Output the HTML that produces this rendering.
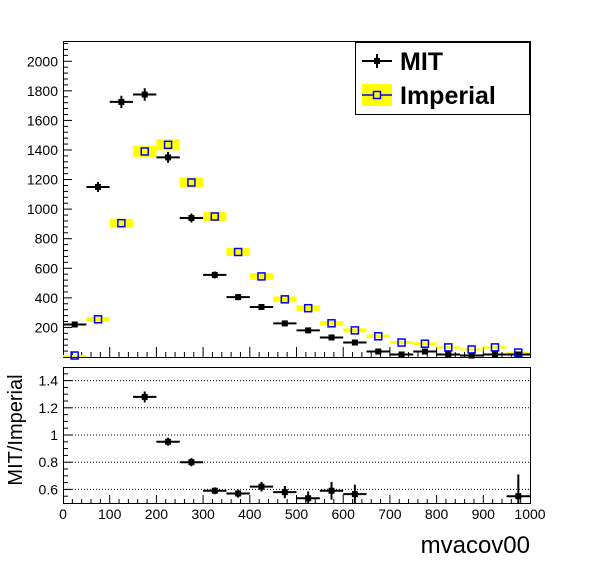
<!DOCTYPE html>
<html><head><meta charset="utf-8"><style>
html,body{margin:0;padding:0;background:#fff;}
svg{display:block;font-family:"Liberation Sans",sans-serif;}
</style></head><body>
<svg id="c" width="596" height="572" xmlns="http://www.w3.org/2000/svg">
<g id="topPad"></g>
<g id="botPad"></g>
<text x="22" y="430" font-size="20" text-anchor="middle" transform="rotate(-90 22 430)">MIT/Imperial</text>
<text x="530" y="553" font-size="24" text-anchor="end">mvacov00</text>
<g>
<rect x="355.5" y="42.5" width="174" height="72" fill="#fff" stroke="#000"/>
<g>
<line x1="362" y1="61" x2="392" y2="61" stroke="#000" stroke-width="2"/>
<line x1="377" y1="54" x2="377" y2="68" stroke="#000" stroke-width="2"/>
<rect x="374" y="58" width="6" height="6" fill="#000"/>
<text x="400" y="70" font-size="25" font-weight="bold">MIT</text>
</g>
<g>
<rect x="362" y="84" width="30" height="22" fill="#ffff00"/>
<line x1="362" y1="95" x2="392" y2="95" stroke="#0000ff" stroke-width="1.5"/>
<rect x="373.5" y="91.5" width="7" height="7" fill="#ffff00" stroke="#0000ff" stroke-width="1.5"/>
<text x="400" y="104" font-size="25" font-weight="bold">Imperial</text>
</g>
</g>
</svg>
<script>
const binCenters=[25,75,125,175,225,275,325,375,425,475,525,575,625,675,725,775,825,875,925,975];
const mitValues=[220,1150,1725,1775,1350,940,555,405,338,227,180,132,98,37,17,37,17,10,17,17];
const impValues=[10,255,905,1390,1435,1180,950,710,545,390,330,228,180,140,98,90,65,51,65,30];
const ratioCenters=[175,225,275,325,375,425,475,525,575,625,975];
const ratioValues=[1.28,0.95,0.80,0.59,0.57,0.62,0.58,0.535,0.59,0.565,0.55];
const ratioErrors=[0.04,0.03,0.03,0.025,0.03,0.035,0.045,0.05,0.065,0.07,0.16];
const yTicksTop=[200,400,600,800,1000,1200,1400,1600,1800,2000];
const yTicksBot=[0.6,0.8,1,1.2,1.4];
const xTicks=[0,100,200,300,400,500,600,700,800,900,1000];
const NS="http://www.w3.org/2000/svg";
const L=63,R=530;
const X=v=>L+(R-L)*v/1000;
const tT=41,tB=357,yTopMax=2137;
const YT=v=>tB-(tB-tT)*v/yTopMax;
const bT=367,bB=503;
const YB=v=>bB-(bB-bT)*(v-0.5)/1.0;
function mk(p,tag,a){const e=document.createElementNS(NS,tag);for(const k in a)e.setAttribute(k,a[k]);p.appendChild(e);return e;}
const topG=document.getElementById('topPad'),botG=document.getElementById('botPad');
let f=mk(topG,'rect',{x:L+.5,y:tT+.5,width:R-L,height:tB-tT,fill:'none',stroke:'#000'});


for(let v=40;v<yTopMax;v+=40){const maj=v%200===0;mk(topG,'line',{x1:L,x2:L+(maj?9:5),y1:YT(v),y2:YT(v),stroke:'#000'});}
yTicksTop.forEach(v=>{const t=mk(topG,'text',{x:L-5,y:YT(v)+5,'font-size':14,'text-anchor':'end'});t.textContent=v;

});
for(let v=20;v<1000;v+=20){const maj=v%100===0;mk(topG,'line',{x1:X(v),x2:X(v),y1:tB,y2:tB-(maj?10:5),stroke:'#000'});}
binCenters.forEach((c,i)=>{const v=impValues[i],e=Math.sqrt(v);
const r=mk(topG,'rect',{x:X(c-25),width:X(50)-X(0),y:YT(v+e),height:Math.max(YT(v-e)-YT(v+e),2),fill:'#ffff00'});

});
binCenters.forEach((c,i)=>{const v=mitValues[i],e=Math.sqrt(v);
const g=mk(topG,'g',{});


mk(g,'line',{x1:X(c-25),x2:X(c+25),y1:YT(v),y2:YT(v),stroke:'#000','stroke-width':2});
mk(g,'line',{x1:X(c),x2:X(c),y1:YT(v+e),y2:YT(v-e),stroke:'#000','stroke-width':2});
mk(g,'rect',{x:X(c)-3,y:YT(v)-3,width:6,height:6,fill:'#000'});});
binCenters.forEach((c,i)=>{const v=impValues[i];
const r=mk(topG,'rect',{x:X(c)-3.5,y:YT(v)-3.5,width:7,height:7,fill:'none',stroke:'#0000ff','stroke-width':1.5});

});
yTicksBot.forEach(v=>{mk(botG,'line',{x1:L,x2:R,y1:YB(v),y2:YB(v),stroke:'#000','stroke-dasharray':'1,2'});
const t=mk(botG,'text',{x:L-5,y:YB(v)+5,'font-size':14,'text-anchor':'end'});t.textContent=v;

});
for(let k=1;k<20;k++){const v=0.5+k*0.05;const maj=k%4===2;mk(botG,'line',{x1:L,x2:L+(maj?9:5),y1:YB(v),y2:YB(v),stroke:'#000'});}
for(let v=20;v<1000;v+=20){const maj=v%100===0;mk(botG,'line',{x1:X(v),x2:X(v),y1:bB,y2:bB-(maj?8:4),stroke:'#000'});}
xTicks.forEach(v=>{const t=mk(botG,'text',{x:X(v),y:bB+16,'font-size':14,'text-anchor':'middle'});t.textContent=v;

});
ratioCenters.forEach((c,i)=>{const v=ratioValues[i],e=ratioErrors[i];
const g=mk(botG,'g',{});


mk(g,'line',{x1:X(c-25),x2:X(c+25),y1:YB(v),y2:YB(v),stroke:'#000','stroke-width':2});
mk(g,'line',{x1:X(c),x2:X(c),y1:YB(v+e),y2:Math.min(YB(v-e),bB),stroke:'#000','stroke-width':2});
mk(g,'rect',{x:X(c)-3,y:YB(v)-3,width:6,height:6,fill:'#000'});});
f=mk(botG,'rect',{x:L+.5,y:bT+.5,width:R-L,height:bB-bT,fill:'none',stroke:'#000'});


</script>
</body></html>
